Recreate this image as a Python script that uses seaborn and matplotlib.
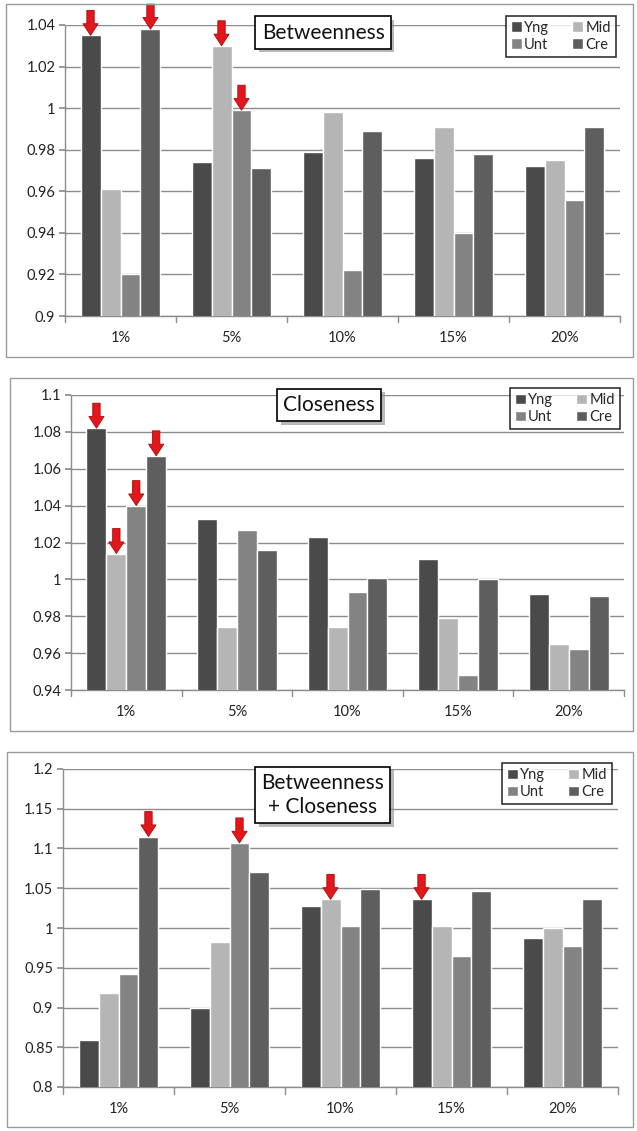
import matplotlib
matplotlib.use("Agg")
import matplotlib.pyplot as plt
import matplotlib.patches as mpatches
import matplotlib.patheffects as pe
import numpy as np
import pandas as pd
import seaborn as sns

# ---- data -------------------------------------------------------------
categories = ["1%", "5%", "10%", "15%", "20%"]
series = ["Yng", "Mid", "Unt", "Cre"]

betweenness_yng = [1.035, 0.974, 0.979, 0.976, 0.972]
betweenness_mid = [0.961, 1.030, 0.998, 0.991, 0.975]
betweenness_unt = [0.920, 0.999, 0.922, 0.940, 0.956]
betweenness_cre = [1.038, 0.971, 0.989, 0.978, 0.991]

closeness_yng = [1.082, 1.033, 1.023, 1.011, 0.992]
closeness_mid = [1.014, 0.974, 0.974, 0.979, 0.965]
closeness_unt = [1.040, 1.027, 0.993, 0.948, 0.962]
closeness_cre = [1.067, 1.016, 1.001, 1.000, 0.991]

combined_yng = [0.859, 0.899, 1.028, 1.036, 0.988]
combined_mid = [0.918, 0.983, 1.036, 1.002, 1.000]
combined_unt = [0.942, 1.107, 1.002, 0.965, 0.977]
combined_cre = [1.115, 1.070, 1.049, 1.046, 1.036]

titles = ["Betweenness", "Closeness", "Betweenness\n+ Closeness"]
y_limits = [(0.9, 1.04), (0.94, 1.1), (0.8, 1.2)]
y_steps = [0.02, 0.02, 0.05]
tick_formats = [["0.9", "0.92", "0.94", "0.96", "0.98", "1", "1.02", "1.04"],
                ["0.94", "0.96", "0.98", "1", "1.02", "1.04", "1.06", "1.08", "1.1"],
                ["0.8", "0.85", "0.9", "0.95", "1", "1.05", "1.1", "1.15", "1.2"]]

# highlighted bars (category, series) marked with red arrows
highlights = [
    [("1%", "Yng"), ("1%", "Cre"), ("5%", "Mid"), ("5%", "Unt")],
    [("1%", "Yng"), ("1%", "Mid"), ("1%", "Unt"), ("1%", "Cre")],
    [("1%", "Cre"), ("5%", "Unt"), ("10%", "Mid"), ("15%", "Yng")],
]

panels = [
    [betweenness_yng, betweenness_mid, betweenness_unt, betweenness_cre],
    [closeness_yng, closeness_mid, closeness_unt, closeness_cre],
    [combined_yng, combined_mid, combined_unt, combined_cre],
]

palette = {"Yng": "#4a4a4a", "Mid": "#b5b5b5", "Unt": "#838383", "Cre": "#5e5e5e"}

# ---- layout (pixel geometry of a 637x1131 canvas) ----------------------
W, H = 637, 1131
sns.set_theme(style="white")
plt.rcParams["font.family"] = ["Lato", "DejaVu Sans"]

fig = plt.figure(figsize=(W / 100, H / 100), dpi=100)
fig.patch.set_facecolor("white")

# axes boxes: (left, right, top, bottom) in pixels
axes_px = [(65, 620, 25, 316), (71, 624, 395, 690), (63, 618, 769, 1087)]
frames_px = [(6, 633, 4, 357), (10, 633, 378, 731), (7, 633, 752, 1127)]
title_pos = [(0.465, 0.974), (0.467, 0.966), (0.468, 0.918)]
legend_anchor = [(0.993, 1.032), (0.993, 1.024), (0.989, 1.019)]

for (l, r, t, b) in frames_px:
    fig.patches.append(mpatches.Rectangle((l / W, 1 - b / H), (r - l) / W, (b - t) / H,
                                          transform=fig.transFigure, fill=False,
                                          edgecolor="#9a9a9a", lw=1.0, zorder=0))

for i, values in enumerate(panels):
    l, r, t, b = axes_px[i]
    ax = fig.add_axes([l / W, 1 - b / H, (r - l) / W, (b - t) / H])

    df = pd.DataFrame({
        "category": np.repeat(categories, len(series)),
        "series": series * len(categories),
        "value": [values[s][c] for c in range(len(categories)) for s in range(len(series))],
    })
    lo, hi = y_limits[i]
    sns.barplot(data=df, x="category", y="value", hue="series", order=categories,
                hue_order=series, palette=palette, width=0.72, gap=0, saturation=1,
                ax=ax, legend=True, zorder=3)

    ax.set_ylim(lo, hi)
    ax.set_xlim(-0.5, len(categories) - 0.5)
    ticks = np.round(np.arange(lo, hi + 1e-9, y_steps[i]), 4)
    ax.set_yticks(ticks)
    ax.set_yticklabels(tick_formats[i], fontsize=10.5, color="#222222")
    ax.set_xticks(range(len(categories)))
    ax.set_xticklabels(categories, fontsize=10.5, color="#222222")
    ax.set_xlabel("")
    ax.set_ylabel("")
    ax.yaxis.grid(True, color="#8c8c8c", lw=1.0, zorder=0)
    ax.set_axisbelow(True)
    for side in ["top", "right"]:
        ax.spines[side].set_visible(False)
    for side in ["left", "bottom"]:
        ax.spines[side].set_color("#8c8c8c")
        ax.spines[side].set_linewidth(1.0)
    ax.tick_params(axis="y", length=4, color="#8c8c8c", pad=3, left=True)
    ax.tick_params(axis="x", length=0, pad=11)
    # category separator ticks on the x axis
    for xb in np.arange(-0.5, len(categories), 1.0):
        ax.plot([xb, xb], [0, -0.022], transform=ax.get_xaxis_transform(),
                color="#8c8c8c", lw=1.0, clip_on=False)

    # legend (2 x 2)
    handles, labels = ax.get_legend_handles_labels()
    hmap = dict(zip(labels, handles))
    order = ["Yng", "Unt", "Mid", "Cre"]
    leg = ax.legend([hmap[k] for k in order], order, ncol=2, loc="upper right",
                    bbox_to_anchor=legend_anchor[i], fontsize=10.5, frameon=True,
                    fancybox=False, edgecolor="black", handlelength=0.75,
                    handleheight=0.75, handletextpad=0.15, columnspacing=1.6,
                    borderpad=0.35, labelspacing=0.2, borderaxespad=0)
    leg.get_frame().set_linewidth(1.2)
    leg.set_zorder(6)

    # title box with a soft drop shadow
    tx, ty = title_pos[i]
    title = ax.text(tx, ty, titles[i], transform=ax.transAxes, ha="center", va="center",
                    fontsize=15, color="#111111", linespacing=1.25, zorder=7,
                    bbox=dict(boxstyle="square,pad=0.3", fc="white", ec="black", lw=1.2))
    title.get_bbox_patch().set_path_effects([
        pe.SimplePatchShadow(offset=(2.5, -2.5), shadow_rgbFace="#8a8a8a", alpha=0.6),
        pe.Normal()])

    # red arrows pointing to highlighted bars
    for cat, ser in highlights[i]:
        ci = categories.index(cat)
        si = series.index(ser)
        patch = ax.patches[si * len(categories) + ci]
        xc = patch.get_x() + patch.get_width() / 2
        yv = values[si][ci]
        ax.annotate("", xy=(xc, yv), xytext=(0, 18), textcoords="offset points",
                    annotation_clip=False, zorder=8,
                    arrowprops=dict(arrowstyle="simple,head_length=0.6,head_width=0.78,tail_width=0.38",
                                    fc="#e3161b", ec="#a80c0c", lw=0.6,
                                    shrinkA=0, shrinkB=0, mutation_scale=14))

fig.savefig("out.png", dpi=100, facecolor="white")
